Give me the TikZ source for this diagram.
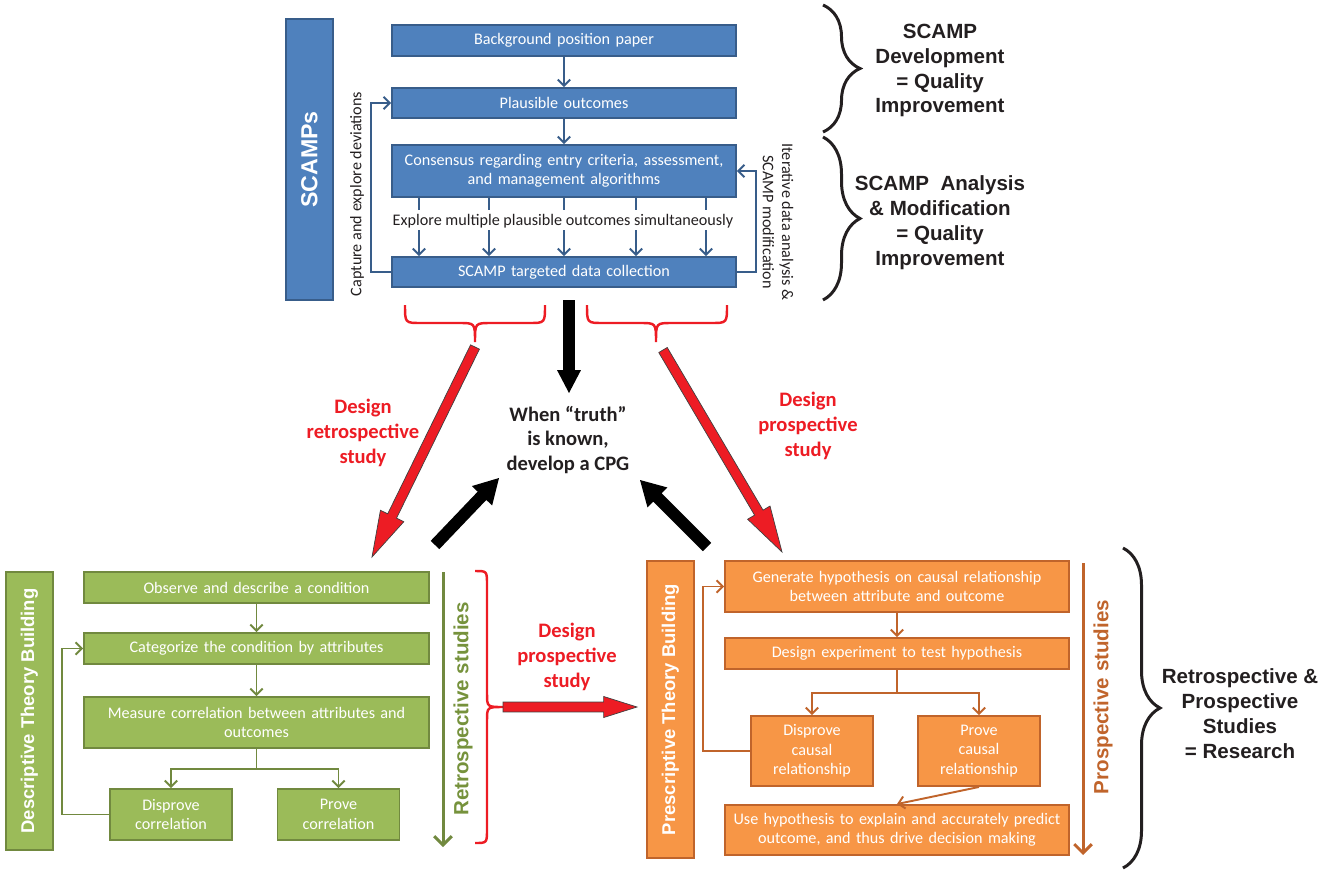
\documentclass[tikz,border=0pt]{standalone}
\usepackage{fontspec}
\setmainfont{Carlito}
\newfontfamily\arialfont{Liberation Sans}
\usetikzlibrary{calc,arrows.meta,decorations.pathreplacing}

\definecolor{scampblue}{HTML}{4F81BD}
\definecolor{scampline}{HTML}{385D8A}
\definecolor{descgreen}{HTML}{9BBB59}
\definecolor{descline}{HTML}{71893F}
\definecolor{retrogreen}{HTML}{76923C}
\definecolor{presorange}{HTML}{F79646}
\definecolor{presline}{HTML}{C0642B}
\definecolor{designred}{HTML}{ED1C24}
\definecolor{textblack}{HTML}{231F20}

% wide arrow: style, from, to, half shaft, half head, head length
\newcommand{\blockarrow}[6]{%
  \coordinate (ba) at ($(#3)!#6!(#2)$);
  \path[#1] ($(#2)!#4!90:(#3)$) -- ($(ba)!#4!90:(#3)$) -- ($(ba)!#5!90:(#3)$)
    -- (#3) -- ($(ba)!#5!-90:(#3)$) -- ($(ba)!#4!-90:(#3)$) -- ($(#2)!#4!-90:(#3)$) -- cycle;
}

\begin{document}
\begin{tikzpicture}[x=0.02cm, y=-0.02cm,
  box/.style={rectangle, line width=1.1pt, text=white, align=center, inner sep=0pt, font=\fontsize{9.2}{11}\selectfont},
  blue box/.style={box, draw=scampline, fill=scampblue, minimum width=6.88cm, text width=6.7cm},
  green box/.style={box, draw=descline, fill=descgreen, minimum width=6.9cm, text width=6.7cm},
  orange box/.style={box, draw=presline, fill=presorange, minimum width=6.88cm, text width=6.7cm},
  small box/.style={minimum width=2.44cm, text width=2.3cm},
  side box/.style={rotate=90, minimum height=0.94cm, font=\arialfont\bfseries\fontsize{10.5}{12}\selectfont},
  flow/.style={-{Straight Barb[length=3.5pt,width=7pt]}, line width=1.1pt},
  study arrow/.style={-{Straight Barb[length=5pt,width=10pt]}, line width=1.7pt},
  big label/.style={font=\arialfont\bfseries\fontsize{11.7}{14.2}\selectfont, text=textblack, align=center},
  red label/.style={font=\bfseries\fontsize{11.7}{14.2}\selectfont, text=designred, align=center},
  note/.style={font=\fontsize{9.2}{11}\selectfont, text=textblack, align=center},
  curly/.style={decorate, decoration={brace, amplitude=#1}},
  red curly/.style={designred, line width=1.4pt},
  red arrow/.style={fill=designred, draw=black!75, line width=0.4pt}]
\useasboundingbox (0,0) rectangle (1338,875);

% SCAMPs
\node[box, side box, draw=scampline, fill=scampblue, minimum width=5.62cm, font=\arialfont\bfseries\fontsize{13.2}{15}\selectfont] (scamps) at (309.5,159.5) {SCAMPs};
\node[blue box, minimum height=0.62cm] (s1) at (564,40.5) {Background position paper};
\node[blue box, minimum height=0.6cm] (s2) at (564,103) {Plausible outcomes};
\node[blue box, minimum height=1.04cm] (s3) at (564,171) {Consensus regarding entry criteria, assessment,\\and management algorithms};
\node[blue box, minimum height=0.6cm] (s4) at (564,272) {SCAMP targeted data collection};
\node[note] (explore) at (563,221) {Explore multiple plausible outcomes simultaneously};
\node[note, rotate=90] (capture) at (357,194) {Capture and explore deviations};
\node[note, rotate=-90] (iter) at (778,222) {Iterative data analysis \&\\SCAMP modification};
\path[flow, scampline] (s1) edge (s2) (s2) edge (s3);
\foreach \x in {419,489,564,636,706} {
  \draw[scampline, line width=1.1pt] (s3.south -| \x,0) -- ++(0,12);
  \draw[flow, scampline] (\x,230) -- (s4.north -| \x,0);
}
\draw[flow, scampline] (s4.west) -- ++(-20,0) |- (s2.west);
\draw[flow, scampline] (s4.east) -- ++(19,0) |- (s3.east);

\draw[curly=0.74cm, line width=1.7pt, textblack] (823,5) -- (823,132);
\draw[curly=0.74cm, line width=1.7pt, textblack] (823,137) -- (823,300);
\node[big label] (qi1) at (940,70.5) {SCAMP\\Development\\= Quality\\Improvement};
\node[big label] (qi2) at (940,222.5) {SCAMP~~Analysis\\\& Modification\\= Quality\\Improvement};

% middle
\draw[red curly] (405,305) .. controls (405,323) .. (421,323) -- (459,323)
  .. controls (475,323) .. (475,342) .. controls (475,323) .. (491,323) -- (529,323)
  .. controls (545,323) .. (545,305);
\draw[red curly] (587,305) .. controls (587,323) .. (603,323) -- (640,323)
  .. controls (656,323) .. (656,342) .. controls (656,323) .. (672,323) -- (711,323)
  .. controls (727,323) .. (727,305);
\coordinate (r1) at (475,347);
\coordinate (r1e) at (372,557);
\coordinate (r2) at (663,350);
\coordinate (r2e) at (782,552);
\blockarrow{red arrow}{r1}{r1e}{2.8pt}{7.4pt}{26pt}
\blockarrow{red arrow}{r2}{r2e}{2.8pt}{7.4pt}{26pt}
\node[red label] (retro) at (363,433) {Design\\retrospective\\study};
\node[red label] (pro) at (808,426) {Design\\prospective\\study};
\node[font=\bfseries\fontsize{11.7}{14.2}\selectfont, text=textblack, align=center] (cpg) at (568,440) {When ``truth''\\is known,\\develop a CPG};
\coordinate (k1) at (569,300);
\coordinate (k2) at (569,393);
\coordinate (k3) at (435,545);
\coordinate (k4) at (499,478);
\coordinate (k5) at (707,547);
\coordinate (k6) at (640,480);
\blockarrow{fill=black}{k1}{k2}{3.4pt}{6.8pt}{13pt}
\blockarrow{fill=black}{k3}{k4}{3.4pt}{8pt}{14pt}
\blockarrow{fill=black}{k5}{k6}{3.4pt}{8pt}{14pt}

% descriptive
\node[box, side box, draw=descline, fill=descgreen, minimum width=5.56cm] (dtb) at (29.5,711) {Descriptive Theory Building};
\node[green box, minimum height=0.62cm] (d1) at (256.5,587.5) {Observe and describe a condition};
\node[green box, minimum height=0.62cm] (d2) at (256.5,648.5) {Categorize the condition by attributes};
\node[green box, minimum height=1.02cm] (d3) at (256.5,722.5) {Measure correlation between attributes and\\outcomes};
\node[box, small box, draw=descline, fill=descgreen, minimum height=1.02cm] (d4) at (171,814.5) {Disprove\\correlation};
\node[box, small box, draw=descline, fill=descgreen, minimum height=1.02cm] (d5) at (338.5,814.5) {Prove\\correlation};
\path[flow, descline] (d1) edge (d2) (d2) edge (d3);
\draw[flow, descline] (d3.south) -- ++(0,20) -| (d4.north);
\draw[flow, descline] (d3.south) -- ++(0,20) -| (d5.north);
\draw[flow, descline] (d4.west) -- ++(-47,0) |- (d2.west);
\coordinate (g1) at (443,572);
\coordinate (g2) at (443,847);
\draw[study arrow, descline] (g1) -- (g2);
\node[font=\arialfont\bfseries\fontsize{11.7}{14}\selectfont, text=retrogreen, rotate=90] (retrost) at (463,709) {Retrospective studies};
\draw[red curly] (475,571) .. controls (487,571) .. (487,585) -- (487,693)
  .. controls (487,707) .. (503,707) .. controls (487,707) .. (487,721) -- (487,829)
  .. controls (487,843) .. (475,843);
\coordinate (r3) at (503,707);
\coordinate (r3e) at (637,707);
\blockarrow{red arrow}{r3}{r3e}{2.8pt}{6pt}{19pt}
\node[red label] (pro2) at (567,657) {Design\\prospective\\study};

% prescriptive
\node[box, side box, draw=presline, fill=presorange, minimum width=5.94cm] (ptb) at (670.5,709.5) {Prescriptive Theory Building};
\node[orange box, minimum height=1.02cm] (p1) at (897,586.5) {Generate hypothesis on causal relationship\\between attribute and outcome};
\node[orange box, minimum height=0.62cm] (p2) at (897,653.5) {Design experiment to test hypothesis};
\node[box, small box, draw=presline, fill=presorange, minimum height=1.4cm] (p3) at (812,751) {Disprove\\causal\\relationship};
\node[box, small box, draw=presline, fill=presorange, minimum height=1.4cm] (p4) at (979,751) {Prove\\causal\\relationship};
\node[orange box, minimum height=1.0cm] (p5) at (897,830) {Use hypothesis to explain and accurately predict\\outcome, and thus drive decision making};
\path[flow, presline] (p1) edge (p2) (p4.south) edge (p5.north);
\draw[flow, presline] (p2.south) -- ++(0,23) -| (p3.north);
\draw[flow, presline] (p2.south) -- ++(0,23) -| (p4.north);
\draw[flow, presline] (p3.west) -- ++(-47,0) |- (p1.west);
\coordinate (o1) at (1083,563);
\coordinate (o2) at (1083,855);
\draw[study arrow, presline] (o1) -- (o2);
\node[font=\arialfont\bfseries\fontsize{11.7}{14}\selectfont, text=presline, rotate=90] (prost) at (1103,697) {Prospective studies};
\draw[curly=0.74cm, line width=1.7pt, textblack] (1123,548) -- (1123,868);
\node[big label] (research) at (1240,713.5) {Retrospective \&\\Prospective\\Studies\\= Research};
\end{tikzpicture}
\end{document}
